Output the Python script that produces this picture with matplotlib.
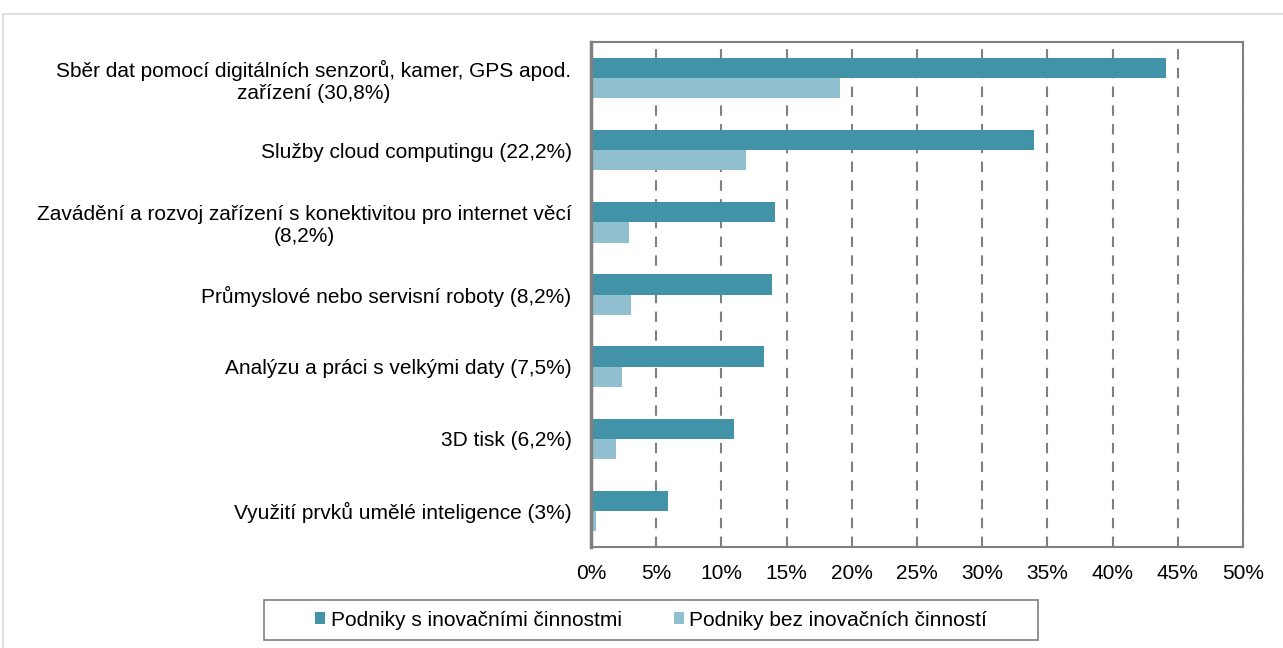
import matplotlib.pyplot as plt
import numpy as np
from matplotlib.patches import Rectangle

plt.rcParams['font.family'] = ['Liberation Sans', 'DejaVu Sans']

# Data
categories = [
    "Sběr dat pomocí digitálních senzorů, kamer, GPS apod.\nzařízení (30,8%)",
    "Služby cloud computingu (22,2%)",
    "Zavádění a rozvoj zařízení s konektivitou pro internet věcí\n(8,2%)",
    "Průmyslové nebo servisní roboty (8,2%)",
    "Analýzu a práci s velkými daty (7,5%)",
    "3D tisk (6,2%)",
    "Využití prvků umělé inteligence (3%)",
]
s_inovacemi = [44.1, 34.0, 14.1, 13.9, 13.3, 11.0, 5.9]
bez_inovaci = [19.1, 11.9, 2.9, 3.1, 2.4, 1.9, 0.4]
series_labels = ["Podniky s inovačními činnostmi", "Podniky bez inovačních činností"]
xticks = np.arange(0, 55, 5)

dark = "#4393A8"
light = "#90BFCF"

W, H = 1283, 648
fig = plt.figure(figsize=(W / 100, H / 100), dpi=100)
ax = fig.add_axes([0.4606, 0.156, 0.5082, 0.779])

# outer chart border
fig.patches.append(Rectangle((3 / W, -0.1), 1.2, 1 - 14 / H + 0.1, transform=fig.transFigure,
                             fill=False, edgecolor="#D9D9D9", linewidth=1.2))

y = np.arange(len(categories))
h = 0.28
ax.barh(y - h / 2, s_inovacemi, height=h, color=dark, label=series_labels[0], zorder=3)
ax.barh(y + h / 2, bez_inovaci, height=h, color=light, label=series_labels[1], zorder=3)

ax.set_ylim(len(categories) - 0.5, -0.5)
ax.set_xlim(0, 50)
ax.set_yticks(y)
ax.set_yticklabels(categories, fontsize=15, ha='right', multialignment='center')
ax.set_xticks(xticks)
ax.set_xticklabels([f"{v}%" for v in xticks], fontsize=15)
ax.tick_params(axis='both', length=0)
ax.tick_params(axis='x', pad=12)
ax.tick_params(axis='y', pad=14)

ax.grid(axis='x', color='#808080', linestyle=(0, (5, 4)), linewidth=1.5, zorder=0)
for side in ['top', 'right', 'bottom']:
    ax.spines[side].set_color('#808080')
    ax.spines[side].set_linewidth(1.5)
ax.spines['left'].set_color('#808080')
ax.spines['left'].set_linewidth(2.5)
ax.spines['left'].set_zorder(4)

# legend (frame drawn separately, wider than the entries)
leg = fig.legend(loc='center', bbox_to_anchor=(651 / W, 1 - 620 / H), ncol=2, fontsize=15,
                 frameon=False, handlelength=0.5, handleheight=0.5,
                 handletextpad=0.25, columnspacing=2.5, borderaxespad=0)
fig.patches.append(Rectangle((264 / W, 1 - 640 / H), (1038 - 264) / W, 40 / H,
                             transform=fig.transFigure, fill=False, edgecolor='#808080', linewidth=1.2))

fig.savefig("out.png", dpi=100)
